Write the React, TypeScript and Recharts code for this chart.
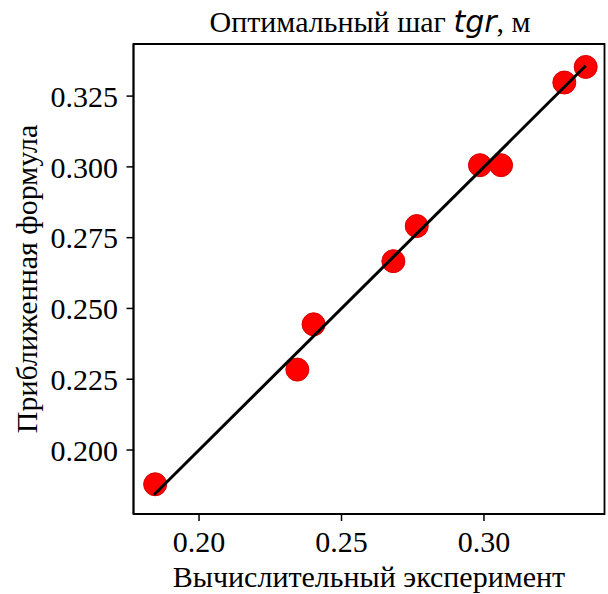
import React from 'react';
import {
  ScatterChart,
  Scatter,
  XAxis,
  YAxis,
  ReferenceArea,
} from 'recharts';

// calculated (experiment) vs approximate formula, step tgr in metres
const experiment = [0.1846, 0.2345, 0.2402, 0.2682, 0.2764, 0.2986, 0.306, 0.3282, 0.3357];
const formula = [0.1879, 0.2284, 0.2444, 0.2667, 0.2791, 0.3006, 0.3006, 0.3298, 0.3353];

// y = x reference line between the extreme experiment values
const lineX = [0.1842, 0.3357];

const xTicks = [0.2, 0.25, 0.3];
const yTicks = [0.2, 0.225, 0.25, 0.275, 0.3, 0.325];

const points = experiment.map((x, i) => ({ x, y: formula[i] }));
const lineData = lineX.map((v) => ({ x: v, y: v }));

const FONT = '"Liberation Serif", "DejaVu Serif", serif';
const FS = 30;

const xDomain: [number, number] = [0.177, 0.3423];
const yDomain: [number, number] = [0.1774, 0.3434];

const Dot = (props: any) => {
  const { cx, cy } = props;
  if (cx == null || cy == null) return null;
  return <circle cx={cx} cy={cy} r={11.5} fill="#ff0000" stroke="#d40000" strokeWidth={1} />;
};

const NoDot = () => <g />;

const XTick = (props: any) => {
  const { x, y, payload } = props;
  return (
    <text x={x} y={y} dy="0.71em" textAnchor="middle" fontFamily={FONT} fontSize={FS} fill="#000">
      {Number(payload.value).toFixed(2)}
    </text>
  );
};

const YTick = (props: any) => {
  const { x, y, payload } = props;
  return (
    <text x={x} y={y} dy="0.355em" textAnchor="end" fontFamily={FONT} fontSize={FS} fill="#000">
      {Number(payload.value).toFixed(3)}
    </text>
  );
};

const App: React.FC = () => {
  return (
    <div style={{ position: 'absolute', left: 0, top: 0, width: 608, height: 594, background: '#fff' }}>
      <svg width={608} height={44} style={{ position: 'absolute', left: 0, top: 0 }}>
        <text x={370} y={32} textAnchor="middle" fontFamily={FONT} fontSize={FS} fill="#000">
          Оптимальный шаг{' '}
          <tspan fontFamily='"DejaVu Sans", sans-serif' fontStyle="italic">tgr</tspan>
          , м
        </text>
      </svg>
      <ScatterChart
        width={608}
        height={594}
        margin={{ top: 44, right: 3.5, bottom: 0, left: 0 }}
      >
        <XAxis
          type="number"
          dataKey="x"
          domain={xDomain}
          ticks={xTicks}
          allowDataOverflow
          height={80}
          tickSize={7}
          tickMargin={10}
          tick={<XTick />}
          axisLine={{ stroke: '#000', strokeWidth: 1.8 }}
          tickLine={{ stroke: '#000', strokeWidth: 1.5 }}
          label={({ viewBox }: any) => (
            <text
              x={viewBox.x + viewBox.width / 2}
              y={viewBox.y + 72.7}
              textAnchor="middle"
              fontFamily={FONT}
              fontSize={FS}
              fill="#000"
            >
              Вычислительный эксперимент
            </text>
          )}
        />
        <YAxis
          type="number"
          dataKey="y"
          domain={yDomain}
          ticks={yTicks}
          allowDataOverflow
          width={133.5}
          tickSize={7}
          tickMargin={8.5}
          tick={<YTick />}
          axisLine={{ stroke: '#000', strokeWidth: 1.8 }}
          tickLine={{ stroke: '#000', strokeWidth: 1.5 }}
          label={({ viewBox }: any) => {
            const cx = 37;
            const cy = viewBox.y + viewBox.height / 2;
            return (
              <text
                x={cx}
                y={cy}
                transform={`rotate(-90 ${cx} ${cy})`}
                textAnchor="middle"
                fontFamily={FONT}
                fontSize={FS}
                fill="#000"
              >
                Приближенная формула
              </text>
            );
          }}
        />
        <ReferenceArea
          x1={xDomain[0]}
          x2={xDomain[1]}
          y1={yDomain[0]}
          y2={yDomain[1]}
          fill="none"
          fillOpacity={0}
          stroke="#000"
          strokeWidth={1.8}
          ifOverflow="visible"
        />
        <Scatter data={points} shape={<Dot />} isAnimationActive={false} />
        <Scatter
          data={lineData}
          line={{ stroke: '#000', strokeWidth: 3 }}
          shape={<NoDot />}
          isAnimationActive={false}
        />
      </ScatterChart>
    </div>
  );
};

export default App;
